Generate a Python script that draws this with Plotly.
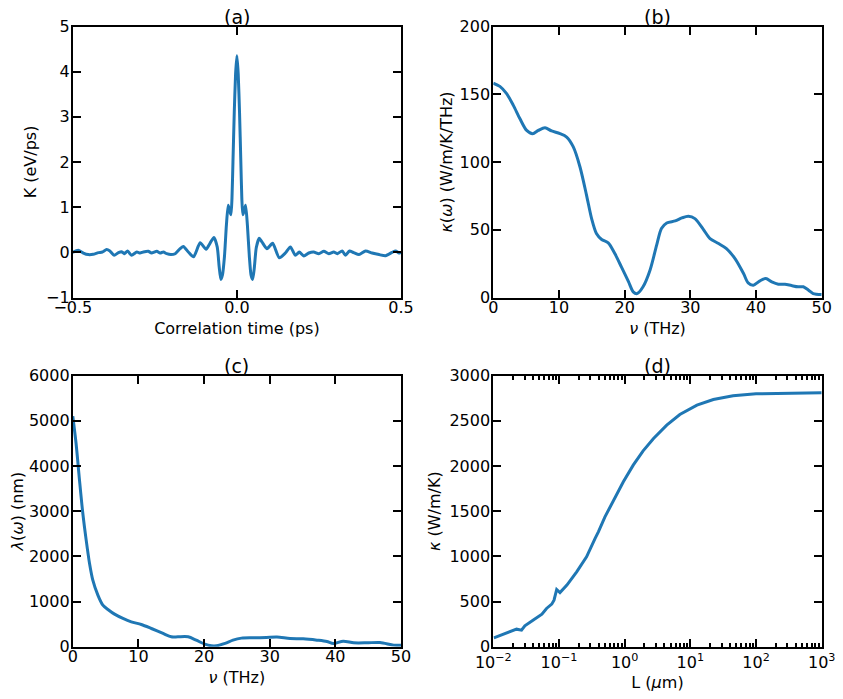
import plotly.graph_objects as go

# ---------------- data ----------------
# (a) heat-current autocorrelation K(t)
t_a = [-0.5, -0.4835, -0.468, -0.453, -0.438, -0.422, -0.41, -0.397, -0.387, -0.374,
       -0.361, -0.351, -0.343, -0.333, -0.321, -0.305, -0.295, -0.285, -0.270, -0.260,
       -0.244, -0.234, -0.224, -0.214, -0.201, -0.188, -0.173, -0.163, -0.148, -0.132,
       -0.112, -0.094, -0.082, -0.070, -0.060, -0.054, -0.049, -0.044, -0.038, -0.032,
       -0.0265, -0.022, -0.018, -0.015, -0.012, -0.008, -0.004, 0.0,
       0.004, 0.008, 0.012, 0.015, 0.018, 0.022, 0.0265, 0.032, 0.038, 0.043,
       0.048, 0.053, 0.059, 0.068, 0.0764, 0.0916, 0.109, 0.129, 0.1476, 0.163,
       0.178, 0.190, 0.204, 0.219, 0.234, 0.2495, 0.265, 0.280, 0.295, 0.3055,
       0.3207, 0.331, 0.343, 0.356, 0.372, 0.392, 0.412, 0.433, 0.453, 0.473,
       0.4835, 0.494, 0.5]
K_a = [0.0, 0.044, -0.015, -0.05, -0.044, -0.007, 0.007, 0.06, 0.03, -0.066,
       -0.007, 0.015, -0.03, 0.03, -0.066, 0.007, -0.015, 0.007, 0.022, -0.015,
       0.022, -0.015, 0.007, -0.03, -0.05, -0.03, 0.08, 0.13, 0.007, -0.10,
       0.21, 0.07, 0.20, 0.33, 0.12, -0.32, -0.60, -0.50, -0.10, 0.60,
       1.04, 0.92, 0.83, 1.20, 2.00, 3.10, 3.95, 4.35,
       3.95, 3.10, 2.00, 1.20, 0.83, 0.92, 1.04, 0.60, -0.10, -0.50,
       -0.60, -0.35, 0.10, 0.31, 0.23, 0.08, 0.20, -0.12, -0.015, 0.12,
       -0.066, 0.007, -0.08, -0.015, 0.007, -0.03, 0.022, -0.03, 0.007, -0.03,
       0.03, -0.066, 0.03, -0.007, -0.05, 0.03, -0.015, -0.05, -0.074, 0.0,
       0.03, -0.015, 0.0]

# (b) spectral thermal conductivity kappa(omega)
nu_b = [0, 1.0, 2.03, 3.05, 4.06, 5.08, 5.99, 6.85, 7.87, 8.88, 10.15, 11.17, 12.18,
        13.2, 14.2, 14.97, 15.7, 16.5, 17.5, 18.5, 19.5, 20.6, 21.3, 21.9, 22.8,
        23.86, 24.87, 25.6, 26.4, 27.7, 28.7, 29.7, 30.7, 32.0, 33.0, 34.3, 35.5,
        36.8, 38.1, 38.8, 39.6, 40.6, 41.5, 42.4, 43.4, 44.4, 45.4, 46.4, 47.2,
        48.0, 48.7, 50.0]
kw_b = [158.2, 155.8, 150.4, 141.8, 131.9, 123.3, 120.9, 123.3, 125.3, 122.9, 120.9,
        118.4, 111.1, 96.3, 75.4, 58.2, 47.2, 42.8, 40.3, 32.4, 22.6, 11.5, 4.2, 2.9,
        7.9, 20.1, 38.6, 50.9, 55.0, 56.5, 58.7, 60.0, 58.2, 50.1, 43.5, 39.8, 36.1,
        28.7, 17.7, 10.8, 9.1, 12.3, 14.0, 11.5, 9.8, 9.8, 8.8, 7.9, 7.9, 5.4, 2.9, 2.2]

# (c) spectral mean free path lambda(omega)
nu_c = [0, 0.5, 1.02, 1.53, 2.04, 2.55, 3.05, 3.82, 4.58, 5.35, 6.36, 7.64, 8.91,
        10.44, 11.97, 13.75, 15.0, 16.0, 17.57, 18.8, 20.1, 21.1, 21.9, 23.2, 24.4,
        25.7, 27.5, 29.5, 31.1, 33.1, 35.1, 37.2, 38.7, 39.7, 41.2, 42.8, 44.8,
        46.8, 48.9, 50.0]
lam_c = [5100, 4496, 3686, 2948, 2359, 1843, 1474, 1143, 921, 826, 722, 627, 553,
         494, 405, 295, 221, 221, 221, 147, 59, 22, 22, 74, 147, 192, 199, 206,
         214, 184, 177, 147, 118, 74, 125, 88, 88, 96, 37, 37]

# (d) cumulative conductivity vs sample length
L_d = [0.0102, 0.0141, 0.0191, 0.0226, 0.0269, 0.0302, 0.0407, 0.0550, 0.0646,
       0.0776, 0.0840, 0.0923, 0.1035, 0.132, 0.186, 0.263, 0.355, 0.398, 0.501,
       0.676, 0.955, 1.35, 1.91, 2.75, 4.37, 6.92, 12.6, 22.4, 44.7, 100, 295, 1000]
kc_d = [99, 136, 177, 195, 184, 232, 295, 361, 424, 472, 516, 634, 600, 682, 829,
        995, 1198, 1271, 1437, 1622, 1824, 2009, 2167, 2303, 2451, 2569, 2672, 2735,
        2775, 2797, 2805, 2808]

log_tickvals = [0.01, 0.1, 1, 10, 100, 1000]
log_ticktext = ["10<sup>−2</sup>", "10<sup>−1</sup>", "10<sup>0</sup>",
                "10<sup>1</sup>", "10<sup>2</sup>", "10<sup>3</sup>"]

# ---------------- figure ----------------
OFF = 8  # page body margin
W, H = 843 - OFF, 699 - OFF
BLUE = "#1f77b4"
FONT = "DejaVu Sans"

def px_x(a, b):
    return [(a - OFF) / W, (b - OFF) / W]

def px_y(top, bottom):
    return [1 - (bottom - OFF) / H, 1 - (top - OFF) / H]

dom_x_left = px_x(72.8, 401.0)
dom_x_right = px_x(493.3, 821.7)
dom_y_top = px_y(26.5, 297.5)
dom_y_bot = px_y(375.5, 646.8)

fig = go.Figure()
fig.add_trace(go.Scatter(x=t_a, y=K_a, mode="lines", line=dict(color=BLUE, width=3, shape="spline", smoothing=0.6),
                         xaxis="x", yaxis="y", showlegend=False))
fig.add_trace(go.Scatter(x=nu_b, y=kw_b, mode="lines", line=dict(color=BLUE, width=3, shape="spline", smoothing=0.8),
                         xaxis="x2", yaxis="y2", showlegend=False))
fig.add_trace(go.Scatter(x=nu_c, y=lam_c, mode="lines", line=dict(color=BLUE, width=3, shape="spline", smoothing=0.8),
                         xaxis="x3", yaxis="y3", showlegend=False))
fig.add_trace(go.Scatter(x=L_d, y=kc_d, mode="lines", line=dict(color=BLUE, width=3),
                         xaxis="x4", yaxis="y4", showlegend=False))

tickfont = dict(family=FONT, size=16, color="black")
titlefont = dict(family=FONT, size=16, color="black")

def ax(domain, anchor, rng, dtick=None, title="", standoff=5, lblstand=0, **kw):
    d = dict(domain=domain, anchor=anchor, range=rng, showline=True, linewidth=2,
             linecolor="black", mirror="ticks", ticks="inside", ticklen=8, tickwidth=2,
             tickcolor="black", showgrid=False, zeroline=False, tickfont=tickfont,
             ticklabelstandoff=lblstand,
             title=dict(text=title, font=titlefont, standoff=standoff))
    if dtick is not None:
        d["dtick"] = dtick
        d["tick0"] = rng[0]
    d.update(kw)
    return d

fig.update_layout(
    width=W, height=H,
    margin=dict(l=0, r=0, t=0, b=0, autoexpand=False),
    paper_bgcolor="white", plot_bgcolor="white",
    font=dict(family=FONT, size=16, color="black"),
    xaxis=ax(dom_x_left, "y", [-0.5, 0.5], 0.5, "Correlation time (ps)", 7, -6, tickformat=".1f"),
    yaxis=ax(dom_y_top, "x", [-1, 5], 1, "K (eV/ps)", 5, -2),
    xaxis2=ax(dom_x_right, "y2", [0, 50], 10, "<i>ν</i> (THz)", 7, -6),
    yaxis2=ax(dom_y_top, "x2", [0, 200], 50, "<i>κ</i>(<i>ω</i>) (W/m/K/THz)", 3, -2),
    xaxis3=ax(dom_x_left, "y3", [0, 50], 10, "<i>ν</i> (THz)", 7, -6),
    yaxis3=ax(dom_y_bot, "x3", [0, 6000], 1000, "<i>λ</i>(<i>ω</i>) (nm)", 4, -2),
    xaxis4=ax(dom_x_right, "y4", [-2, 3], None, "L (<i>μ</i>m)", 6, 0, type="log",
              tickvals=log_tickvals, ticktext=log_ticktext,
              minor=dict(ticks="inside", ticklen=4, tickwidth=1.5, tickcolor="black", dtick="D1")),
    yaxis4=ax(dom_y_bot, "x4", [0, 3000], 500, "<i>κ</i> (W/m/K)", 5, -2),
)

for lbl, dx, dy in [("(a)", dom_x_left, dom_y_top), ("(b)", dom_x_right, dom_y_top),
                    ("(c)", dom_x_left, dom_y_bot), ("(d)", dom_x_right, dom_y_bot)]:
    fig.add_annotation(text=lbl, xref="paper", yref="paper", x=(dx[0] + dx[1]) / 2, y=dy[1],
                       xanchor="center", yanchor="bottom", showarrow=False, yshift=-3,
                       font=dict(family=FONT, size=19, color="black"))

fig.write_html("out.html")
